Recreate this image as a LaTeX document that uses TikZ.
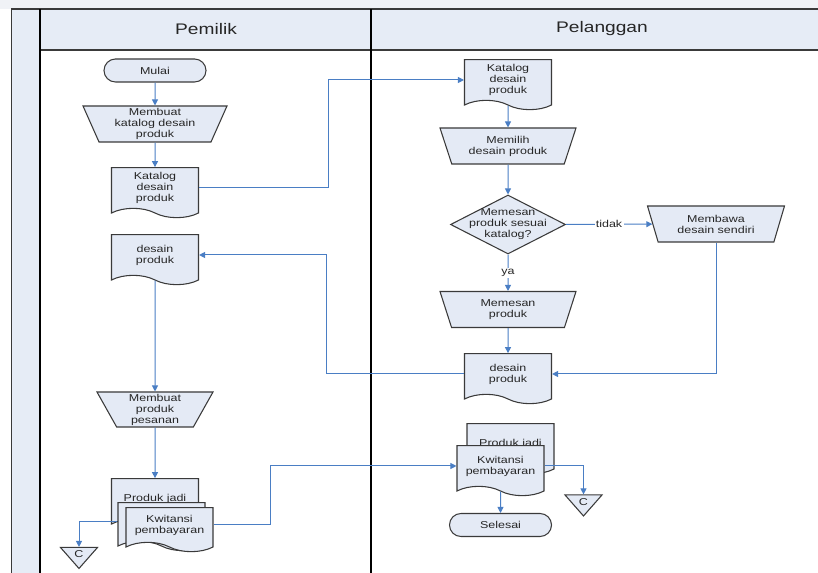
\documentclass[tikz,border=0pt]{standalone}
\usepackage{fontspec}
\setmainfont[FakeStretch=1.25]{Liberation Sans}
\usetikzlibrary{shapes.geometric,shapes.symbols,arrows.meta}

\definecolor{lanefill}{HTML}{E6ECF6}
\definecolor{shapefill}{HTML}{E4EAF5}
\definecolor{flowblue}{HTML}{4A7EC4}
\definecolor{edgegray}{HTML}{3A3A3A}
\definecolor{txtgray}{HTML}{262626}
\definecolor{topgray}{HTML}{F0F2F6}

\tikzset{
  base/.style={draw=edgegray, line width=0.8pt, fill=shapefill, text=txtgray,
    align=center, inner sep=0pt, font=\fontsize{7.5}{8.3}\selectfont},
  terminal/.style={base, rectangle, rounded corners=8.6pt, minimum width=76.5pt, minimum height=17.25pt},
  manual/.style={base, trapezium, shape border rotate=180, trapezium stretches body=true,
    trapezium angle=#1, minimum height=27pt},
  doc/.style={base, tape, tape bend top=none, tape bend bottom=out and in,
    tape bend height=7pt, minimum width=65.25pt, minimum height=37.5pt},
  decision/.style={base, diamond, minimum width=86.25pt, minimum height=44.25pt},
  offpage/.style={base, isosceles triangle, shape border rotate=-90, isosceles triangle stretches,
    minimum width=27.75pt, minimum height=15.75pt},
  flow/.style={draw=flowblue, line width=0.75pt, -{Triangle[length=4.5pt,width=4.5pt]}},
  answer/.style={fill=white, inner sep=1pt, text=txtgray, font=\fontsize{7.5}{8.3}\selectfont},
  lanehead/.style={font=\fontsize{11.5}{13}\selectfont, text=txtgray}
}

\begin{document}
\begin{tikzpicture}[x=0.75pt,y=-0.75pt]
\useasboundingbox (0,0) rectangle (818,573);

% lanes
\fill[topgray] (0,0) rectangle (818,9);
\fill[lanefill] (11,9) rectangle (40,573);
\fill[lanefill] (40,9) rectangle (818,50);
\draw[edgegray, line width=1.5pt] (11,9.5) -- (818,9.5);
\draw[edgegray, line width=1.2pt] (11.5,9) -- (11.5,573);
\draw[edgegray, line width=1.2pt] (40,50) -- (818,50);
\draw[black, line width=1.1pt] (40,9) -- (40,573);
\draw[black, line width=1.1pt] (371,9) -- (371,573);
\node[lanehead] (pemilik) at (206,29) {Pemilik};
\node[lanehead] (pelanggan) at (602,29) {Pelanggan};

% Pemilik
\node[terminal] (mulai) at (155,70.5) {Mulai};
\node[manual=63, minimum width=108pt] (buatkatalog) at (155,124) {Membuat\\katalog desain\\produk};
\node[doc] (katalog) at (155,188) {Katalog\\desain\\produk};
\node[doc] (desain) at (155,255) {desain\\produk};
\node[manual=58, minimum width=87pt, minimum height=26.25pt] (buatpesanan) at (155,409.5) {Membuat\\produk\\pesanan};
\node[doc] (produk) at (155,499) {Produk jadi};
\node[doc, minimum height=36pt] (kwitansi2) at (161.5,522) {};
\node[doc, minimum height=33pt] (kwitansi) at (169.5,525) {Kwitansi\\pembayaran};
\node[offpage] (conl) at (79,554.5) {C};

% Pelanggan
\node[doc] (katalogp) at (508,80) {Katalog\\desain\\produk};
\node[manual=60, minimum width=102pt] (pilih) at (508,146) {Memilih\\desain produk};
\node[decision] (cek) at (508,224.5) {};
\node[align=center, text=txtgray, font=\fontsize{7.5}{8.3}\selectfont] (cektext) at (cek) {Memesan\\produk sesuai\\katalog?};
\node[manual=60, minimum width=102.75pt] (bawa) at (716,224) {Membawa\\desain sendiri};
\node[manual=60, minimum width=102pt] (pesan) at (508,309.5) {Memesan\\produk};
\node[doc] (desainp) at (508,374) {desain\\produk};
\node[doc] (produkp) at (510.5,444) {Produk jadi};
\node[doc] (kwitansip) at (500.5,466) {Kwitansi\\pembayaran};
\node[offpage] (conr) at (583.5,502) {C};
\node[terminal] (selesai) at (500.5,525) {Selesai};

% arus
\draw[flow] (mulai) -- (buatkatalog);
\draw[flow] (buatkatalog) -- (katalog);
\draw[flow] (katalog.east) -- ++(129,0) |- (katalogp.west);
\draw[flow] (katalogp) -- (pilih);
\draw[flow] (pilih) -- (cek);
\draw[flow] (cek) -- node[answer] {tidak} (bawa);
\draw[flow] (cek) -- node[answer] {ya} (pesan);
\draw[flow] (pesan) -- (desainp);
\draw[flow] (bawa) |- (desainp);
\draw[flow] (desainp.west) -- ++(-137,0) |- (desain);
\draw[flow] (desain) -- (buatpesanan);
\draw[flow] (buatpesanan) -- (produk);
\draw[flow] (kwitansi2.west) -| (conl);
\draw[flow] (kwitansi.east) -- ++(57,0) |- (kwitansip);
\draw[flow] (kwitansip) -| (conr);
\draw[flow] (kwitansip) -- (selesai);
\end{tikzpicture}
\end{document}
